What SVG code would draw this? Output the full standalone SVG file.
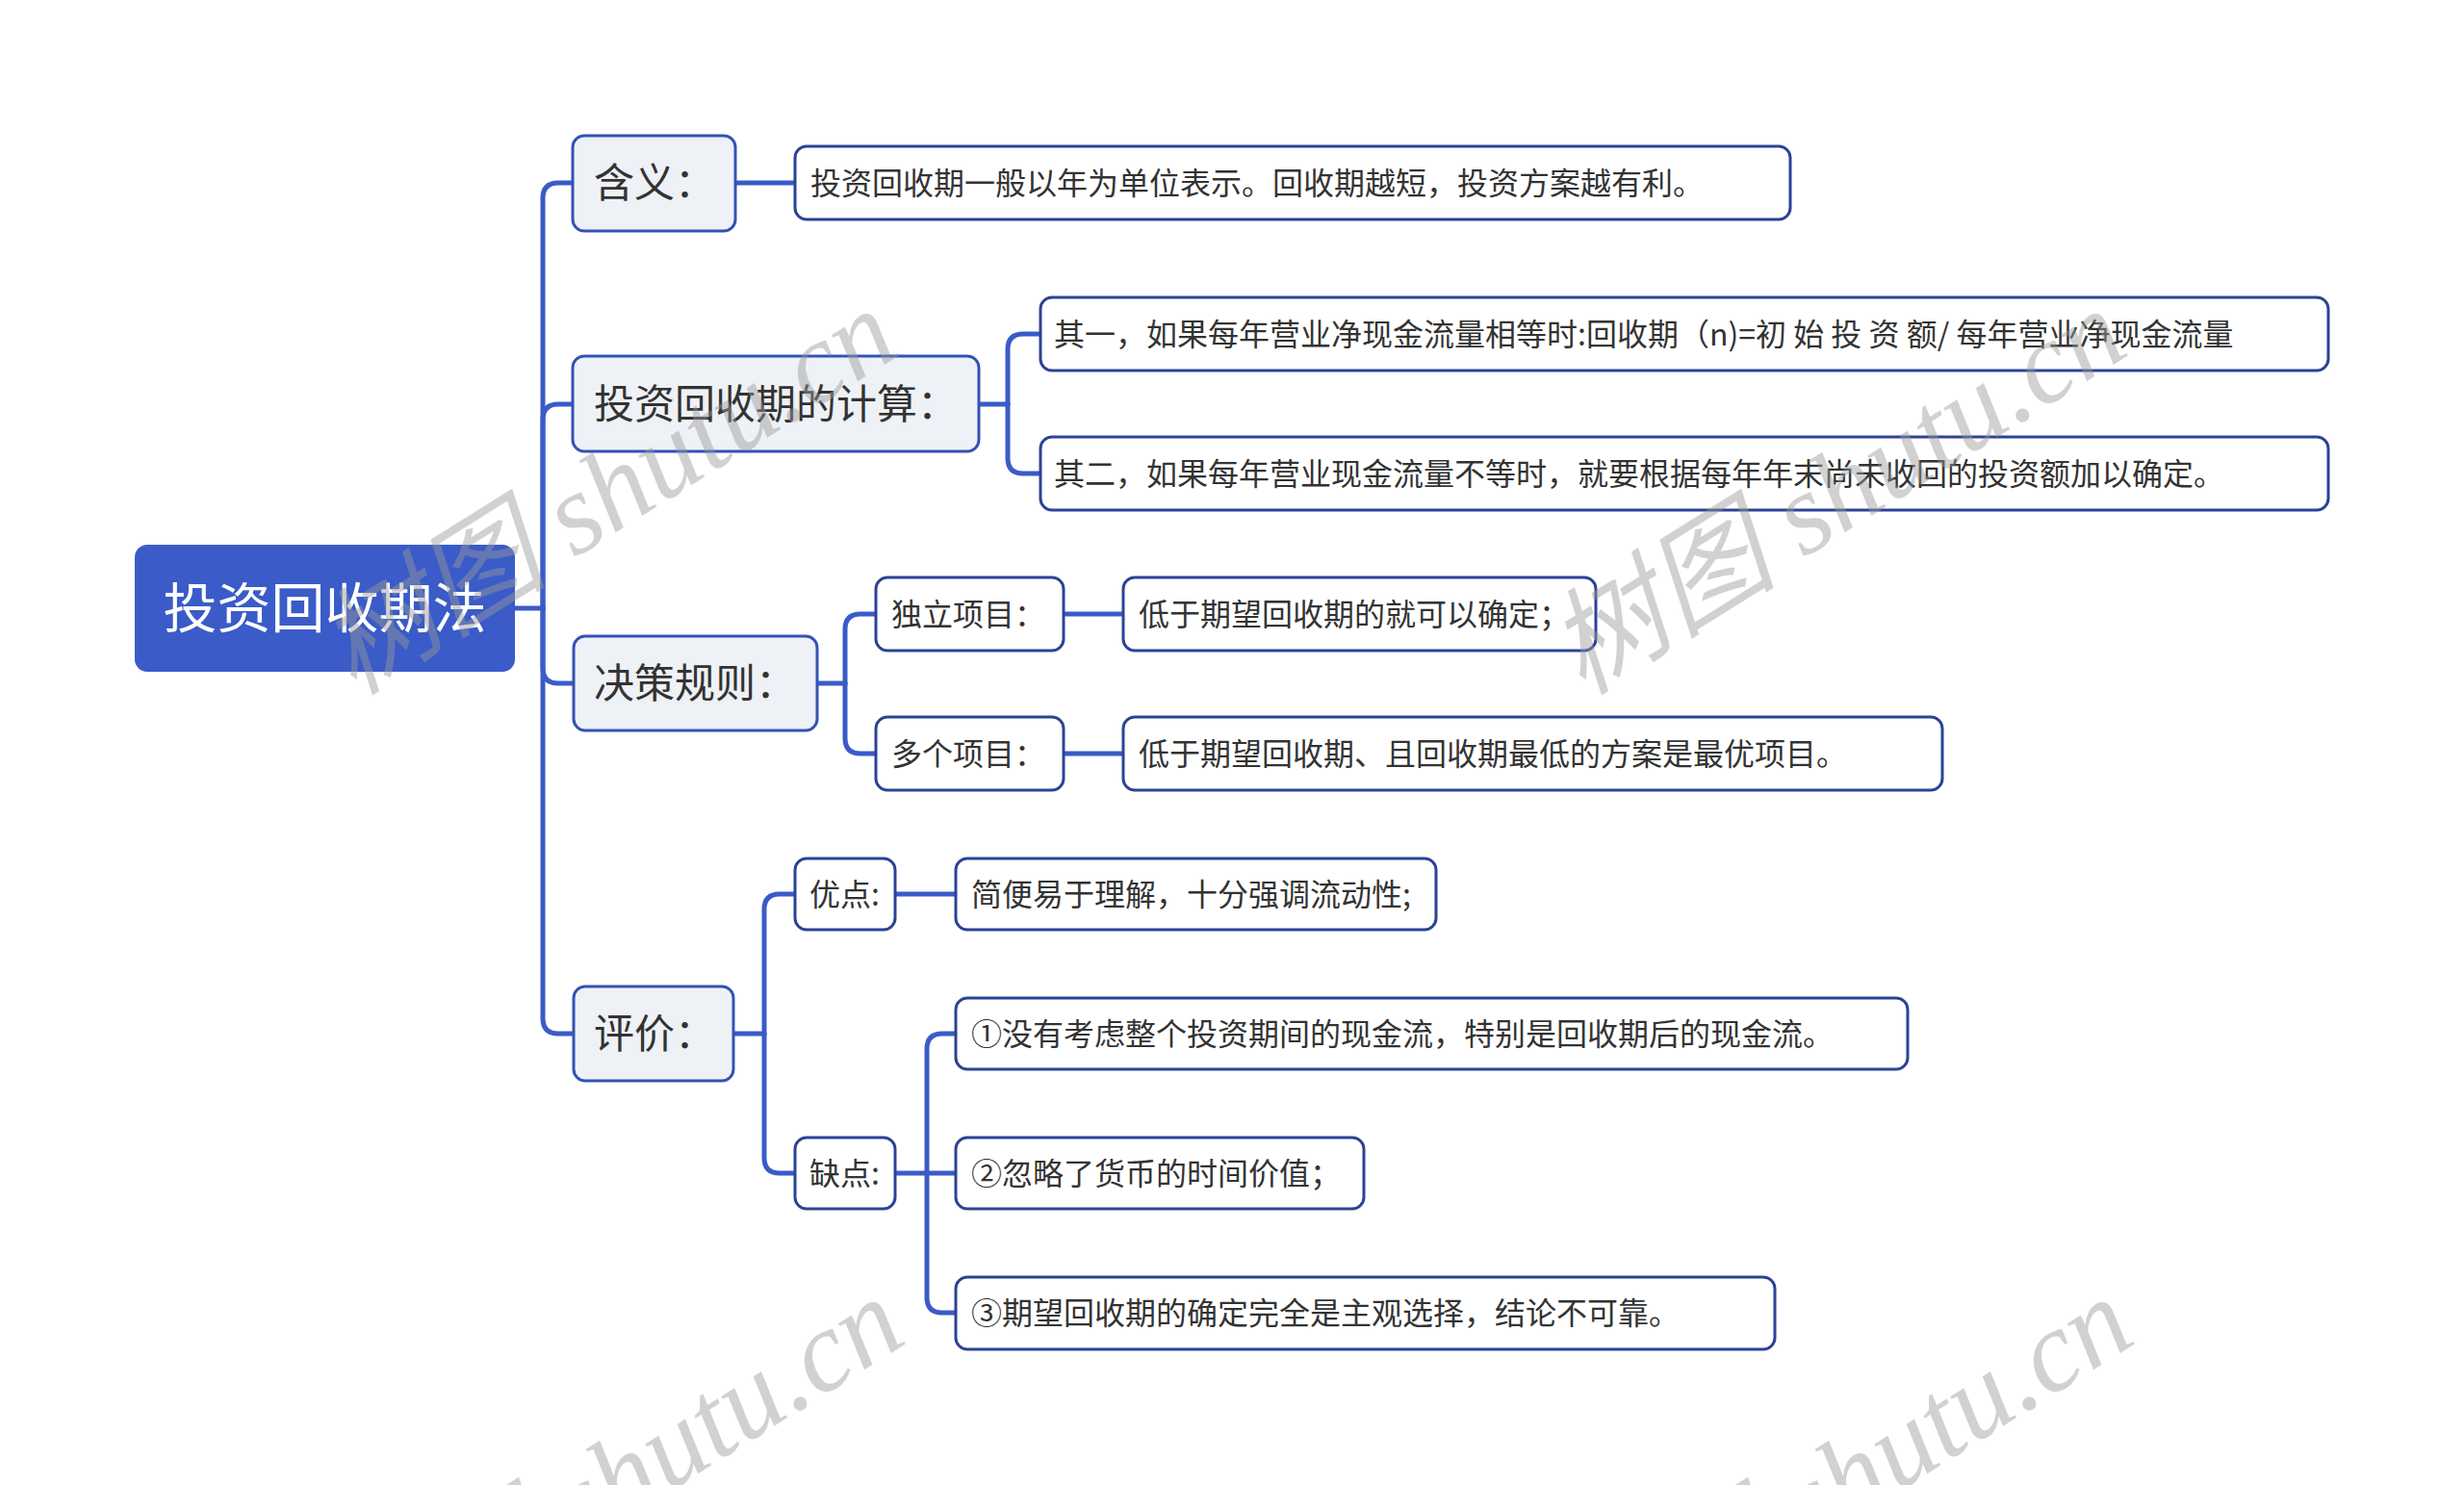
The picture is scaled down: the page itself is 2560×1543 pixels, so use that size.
<svg xmlns="http://www.w3.org/2000/svg" width="2560" height="1543" viewBox="0 0 2560 1543">
<style>
.t{font-family:"Noto Sans CJK SC","Noto Sans",sans-serif;fill:#333333}
.l1{fill:#eef1f5;stroke:#3352b8;stroke-width:3}
.lf{fill:#ffffff;stroke:#2c4395;stroke-width:3}
.c{fill:none;stroke:#3a5bc8;stroke-width:5;stroke-linecap:round;stroke-linejoin:round}
.wm{font-family:"Liberation Serif","Noto Sans CJK SC",serif;font-style:italic;font-size:120px;fill:#9a9a9a;fill-opacity:0.45}
</style>
<rect width="2560" height="1543" fill="#ffffff"/>
<g id="connectors">
<path class="c" d="M535,632 H564"/>
<path class="c" d="M564,632 V206 Q564,190 580,190 H595"/>
<path class="c" d="M564,632 V436 Q564,420 580,420 H595"/>
<path class="c" d="M564,632 V694 Q564,710 580,710 H596"/>
<path class="c" d="M564,632 V1058 Q564,1074 580,1074 H596"/>
<path class="c" d="M764,190 H826"/>
<path class="c" d="M1017,420 H1047"/>
<path class="c" d="M1047,420 V363 Q1047,347 1063,347 H1081"/>
<path class="c" d="M1047,420 V476 Q1047,492 1063,492 H1081"/>
<path class="c" d="M849,710 H878"/>
<path class="c" d="M878,710 V654 Q878,638 894,638 H910"/>
<path class="c" d="M878,710 V767 Q878,783 894,783 H910"/>
<path class="c" d="M1105,638 H1167"/>
<path class="c" d="M1105,783 H1167"/>
<path class="c" d="M762,1074 H794"/>
<path class="c" d="M794,1074 V945 Q794,929 810,929 H826"/>
<path class="c" d="M794,1074 V1203 Q794,1219 810,1219 H826"/>
<path class="c" d="M930,929 H993"/>
<path class="c" d="M930,1219 H993"/>
<path class="c" d="M963,1219 V1090 Q963,1074 979,1074 H993"/>
<path class="c" d="M963,1219 V1348 Q963,1364 979,1364 H993"/>
</g>
<g id="root">
<rect x="140" y="566" width="395" height="132" rx="13" fill="#3a5bc8"/>
<text x="337.5" y="652" text-anchor="middle" font-family="Noto Sans CJK SC, sans-serif" font-size="56" fill="#ffffff">投资回收期法</text>
</g>
<g id="n-hanyi">
<rect class="l1" x="595" y="141" width="169" height="99" rx="12"/>
<text class="t" x="617" y="205" font-size="42">含义：</text>
</g>
<g id="n-hanyi-1">
<rect class="lf" x="826" y="152" width="1034" height="76" rx="12"/>
<text class="t" x="842" y="201.5" font-size="32">投资回收期一般以年为单位表示。回收期越短，投资方案越有利。</text>
</g>
<g id="n-jisuan">
<rect class="l1" x="595" y="370" width="422" height="99" rx="12"/>
<text class="t" x="617" y="435" font-size="42">投资回收期的计算：</text>
</g>
<g id="n-jisuan-1">
<rect class="lf" x="1081" y="309" width="1338" height="76" rx="12"/>
<text class="t" x="1095" y="358.5" font-size="32">其一，如果每年营业净现金流量相等时:回收期（n)=初 始 投 资 额/ 每年营业净现金流量</text>
</g>
<g id="n-jisuan-2">
<rect class="lf" x="1081" y="454" width="1338" height="76" rx="12"/>
<text class="t" x="1095" y="503.5" font-size="32">其二，如果每年营业现金流量不等时，就要根据每年年末尚未收回的投资额加以确定。</text>
</g>
<g id="n-juece">
<rect class="l1" x="596" y="661" width="253" height="98" rx="12"/>
<text class="t" x="617" y="725" font-size="42">决策规则：</text>
</g>
<g id="n-duli">
<rect class="lf" x="910" y="600" width="195" height="76" rx="12"/>
<text class="t" x="926" y="649.5" font-size="32">独立项目：</text>
</g>
<g id="n-duli-1">
<rect class="lf" x="1167" y="600" width="491" height="76" rx="12"/>
<text class="t" x="1183" y="649.5" font-size="32">低于期望回收期的就可以确定；</text>
</g>
<g id="n-duoge">
<rect class="lf" x="910" y="745" width="195" height="76" rx="12"/>
<text class="t" x="926" y="794.5" font-size="32">多个项目：</text>
</g>
<g id="n-duoge-1">
<rect class="lf" x="1167" y="745" width="851" height="76" rx="12"/>
<text class="t" x="1183" y="794.5" font-size="32">低于期望回收期、且回收期最低的方案是最优项目。</text>
</g>
<g id="n-pingjia">
<rect class="l1" x="596" y="1025" width="166" height="98" rx="12"/>
<text class="t" x="617" y="1089" font-size="42">评价：</text>
</g>
<g id="n-youdian">
<rect class="lf" x="826" y="892" width="104" height="74" rx="12"/>
<text class="t" x="841" y="940.5" font-size="32">优点:</text>
</g>
<g id="n-youdian-1">
<rect class="lf" x="993" y="892" width="499" height="74" rx="12"/>
<text class="t" x="1009" y="940.5" font-size="32">简便易于理解，十分强调流动性;</text>
</g>
<g id="n-quedian">
<rect class="lf" x="826" y="1182" width="104" height="74" rx="12"/>
<text class="t" x="841" y="1230.5" font-size="32">缺点:</text>
</g>
<g id="n-quedian-1">
<rect class="lf" x="993" y="1037" width="989" height="74" rx="12"/>
<text class="t" x="1009" y="1085.5" font-size="32">①没有考虑整个投资期间的现金流，特别是回收期后的现金流。</text>
</g>
<g id="n-quedian-2">
<rect class="lf" x="993" y="1182" width="424" height="74" rx="12"/>
<text class="t" x="1009" y="1230.5" font-size="32">②忽略了货币的时间价值；</text>
</g>
<g id="n-quedian-3">
<rect class="lf" x="993" y="1327" width="851" height="75" rx="12"/>
<text class="t" x="1009" y="1376" font-size="32">③期望回收期的确定完全是主观选择，结论不可靠。</text>
</g>
<g id="watermarks">
<text class="wm" text-anchor="middle" transform="translate(653,545) rotate(-32)">树图 shutu.cn</text>
<text class="wm" text-anchor="middle" transform="translate(1930,545) rotate(-32)">树图 shutu.cn</text>
<text class="wm" text-anchor="middle" transform="translate(660,1572) rotate(-32)">树图 shutu.cn</text>
<text class="wm" text-anchor="middle" transform="translate(1937,1572) rotate(-32)">树图 shutu.cn</text>
</g>
</svg>
